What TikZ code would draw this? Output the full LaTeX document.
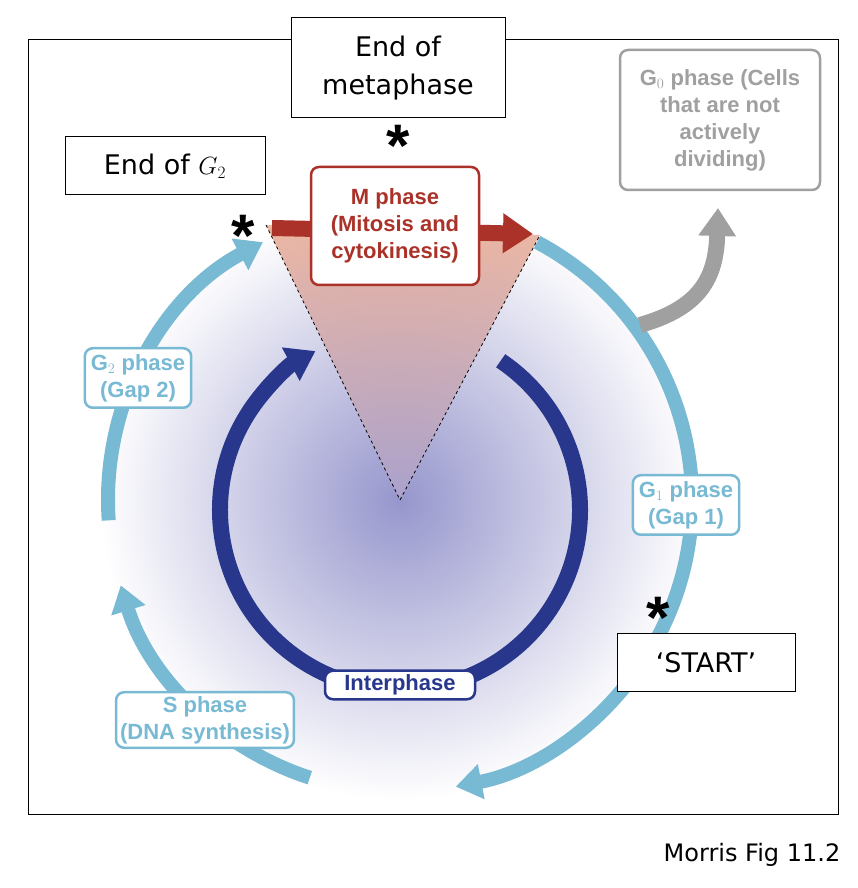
\documentclass[tikz,border=0pt]{standalone}
\usepackage{fontspec}
\setmainfont{Liberation Sans}
\newfontfamily\comic{DejaVu Sans}
\usetikzlibrary{arrows.meta}
\definecolor{ringblue}{RGB}{120,185,212}
\definecolor{darkblue}{RGB}{40,55,140}
\definecolor{mred}{RGB}{170,50,40}
\definecolor{gzero}{RGB}{160,160,160}
\begin{document}
\begin{tikzpicture}[x=1pt,y=1pt,
  phase/.style={draw=ringblue, line width=2.5pt, rounded corners=8pt, fill=white, align=center,
    text=ringblue, font=\fontsize{22}{27}\selectfont\bfseries, inner sep=6pt},
  note/.style={draw=black, line width=1pt, fill=white, align=center, font=\comic\fontsize{27}{38}\selectfont},
  star/.style={font=\fontsize{60}{60}\selectfont\bfseries, inner sep=0pt},
  ring/.style={line width=14pt, ringblue, -{Triangle[width=34pt,length=26pt]}}]
\useasboundingbox (0,0) rectangle (858,888);
\draw[line width=1pt] (28,73) rectangle (838,848);
\shade[inner color={rgb,255:red,150;green,150;blue,205}, outer color=white] (400,388) circle (300);
% outer cycle
\coordinate (c) at (400,388);
\draw[ring] ([shift={(62:292)}]c) arc (62:-79:292);
\draw[ring] ([shift={(-108:292)}]c) arc (-108:-163:292);
\draw[ring] ([shift={(-176:292)}]c) arc (184:118:292);
% inner cycle
\coordinate (ci) at (400,378);
\draw[darkblue, line width=16pt, -{Triangle[width=36pt,length=28pt]}] ([shift={(56:180)}]ci) arc (56:-242:180);
% G0 arrow
\coordinate (g0s) at (640,563);
\coordinate (g0e) at (718,680);
\draw[gzero, line width=16pt, -{Triangle[width=36pt,length=28pt]}] (g0s) .. controls (700,580) and (716,610) .. (g0e);
% cone
\coordinate (apex) at (400,388);
\coordinate (cl) at (266,663);
\coordinate (cr) at (540,653);
\shade[top color={rgb,255:red,232;green,165;blue,140}, bottom color={rgb,255:red,175;green,165;blue,205}, fill opacity=0.8] (apex) -- (cl) -- (cr) -- cycle;
\draw[dashed, line width=0.8pt] (cl) -- (apex) -- (cr);
% M arrow
\draw[mred, line width=16pt, -{Triangle[width=38pt,length=30pt]}] (272,660) -- (533,654);
\node[phase, draw=mred, text=mred, minimum width=168pt, minimum height=118pt, inner sep=3pt] (m) at (395,662) {M phase\\(Mitosis and\\cytokinesis)};
% phase labels
\node[phase] (g2) at (138,510) {G$_2$ phase\\(Gap 2)};
\node[phase] (g1) at (686,383) {G$_1$ phase\\(Gap 1)};
\node[phase, inner sep=4pt] (s) at (205,168) {S phase\\(DNA synthesis)};
\node[phase, draw=darkblue, text=darkblue, minimum width=150pt, inner sep=4pt] (int) at (400,203) {Interphase};
\node[phase, draw=gzero, text=gzero, minimum width=200pt, minimum height=140pt, inner sep=3pt] (g0) at (720,768) {G$_0$ phase (Cells\\that are not\\actively\\dividing)};
% notes
\node[note, minimum width=214pt, minimum height=100pt] (meta) at (398,820) {End of\\metaphase};
\node[note, minimum width=200pt, minimum height=58pt] (eg2) at (165,722) {End of $G_2$};
\node[note, minimum width=178pt, minimum height=58pt] (start) at (706,225) {‘START’};
\node[star] (s1) at (398,742) {*};
\node[star] (s2) at (243,652) {*};
\node[star] (s3) at (658,270) {*};
\node[font=\comic\fontsize{24}{28}\selectfont] (ref) at (752,33) {Morris Fig 11.2};
\end{tikzpicture}
\end{document}
